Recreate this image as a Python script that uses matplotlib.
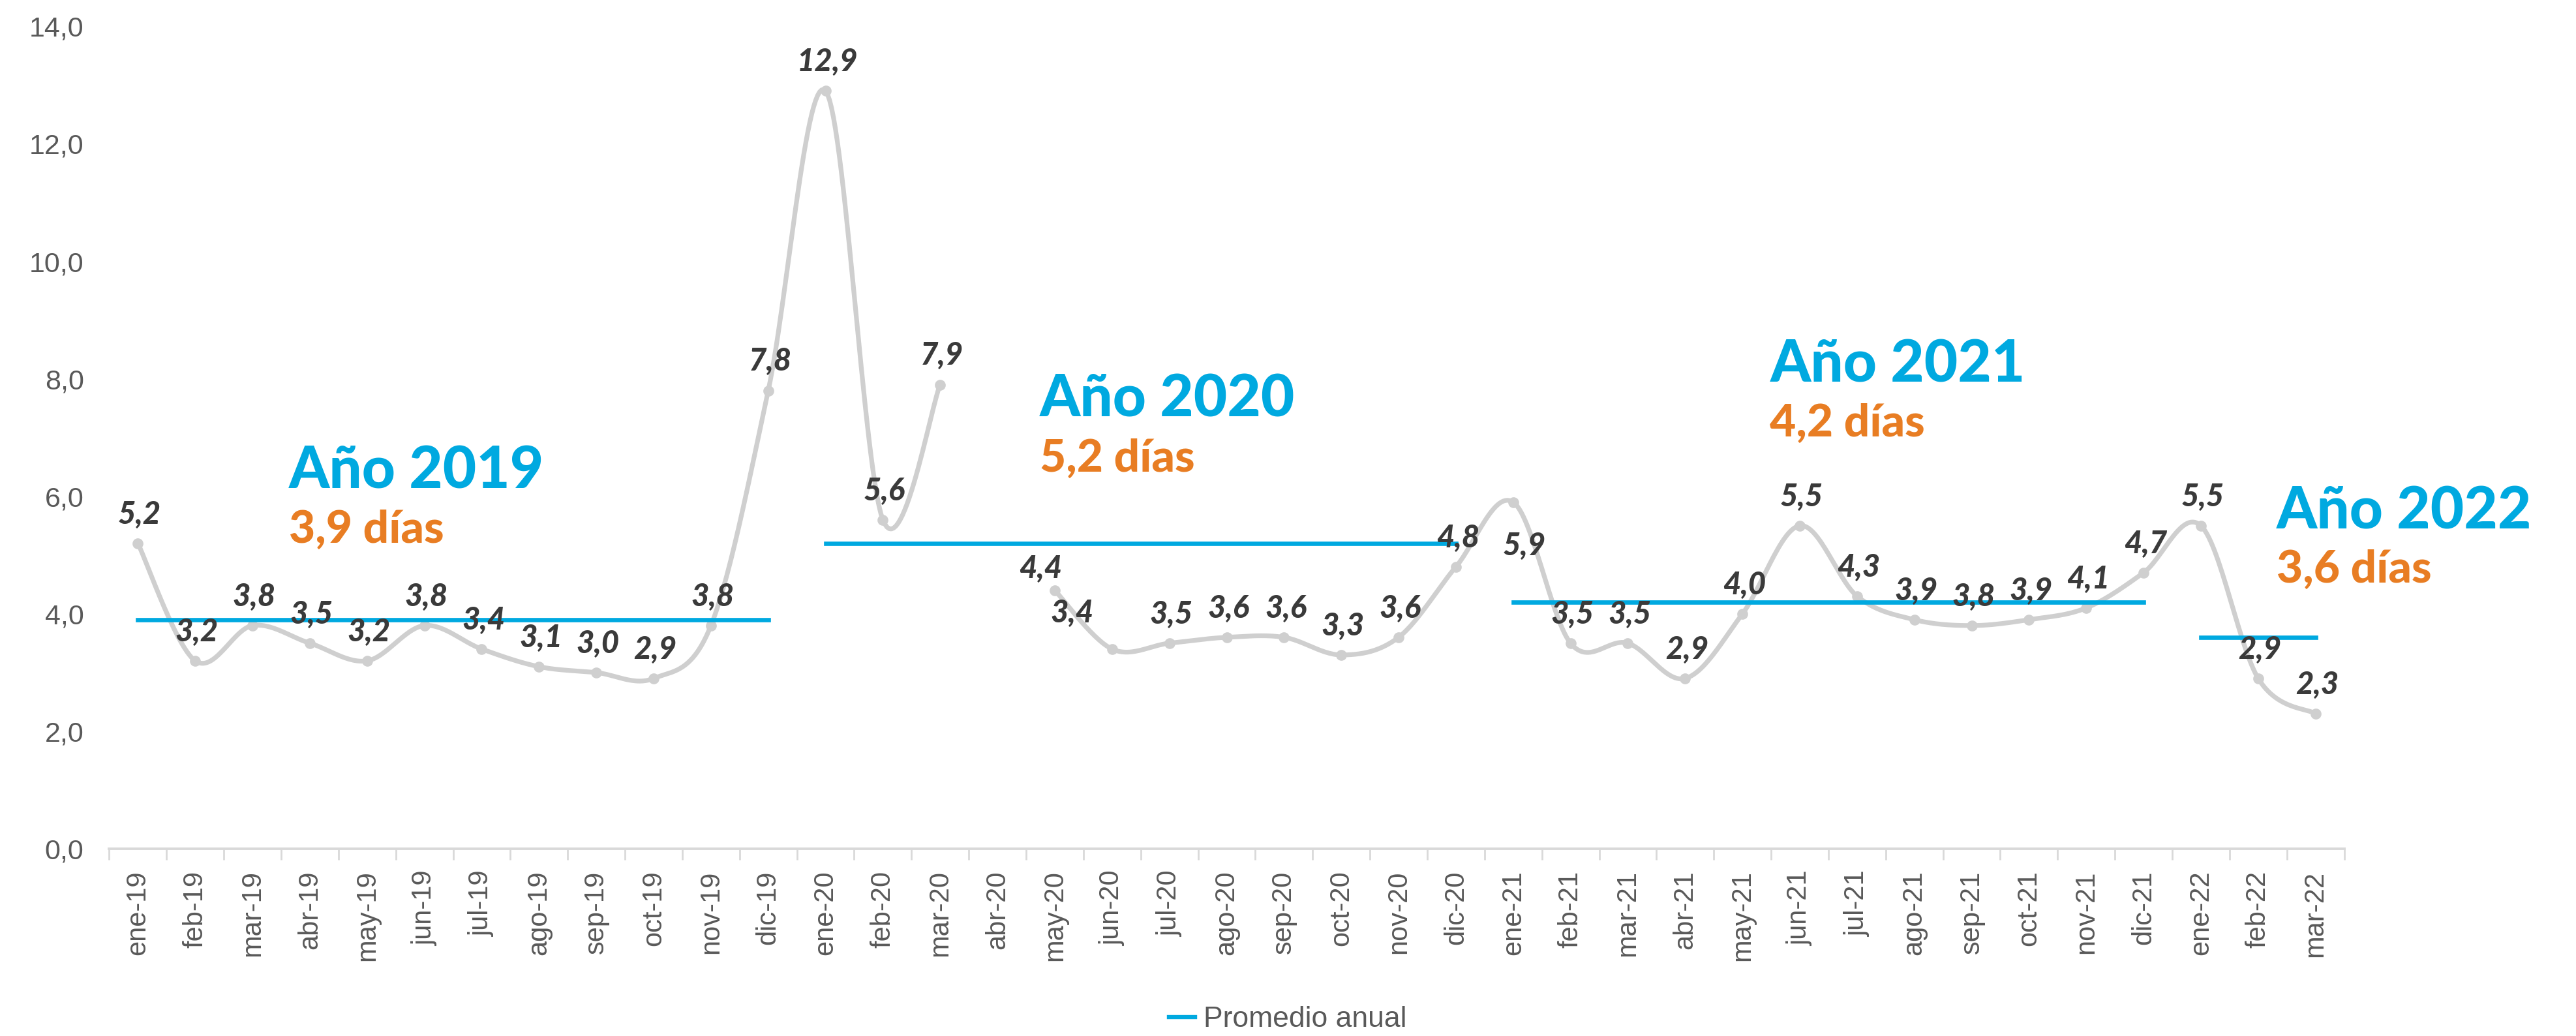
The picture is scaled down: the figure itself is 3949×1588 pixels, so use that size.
import numpy as np
import matplotlib
matplotlib.use("Agg")
import matplotlib.pyplot as plt
from matplotlib.lines import Line2D

meses = ["ene-19", "feb-19", "mar-19", "abr-19", "may-19", "jun-19", "jul-19", "ago-19",
         "sep-19", "oct-19", "nov-19", "dic-19",
         "ene-20", "feb-20", "mar-20", "abr-20", "may-20", "jun-20", "jul-20", "ago-20",
         "sep-20", "oct-20", "nov-20", "dic-20",
         "ene-21", "feb-21", "mar-21", "abr-21", "may-21", "jun-21", "jul-21", "ago-21",
         "sep-21", "oct-21", "nov-21", "dic-21",
         "ene-22", "feb-22", "mar-22"]

dias = [5.2, 3.2, 3.8, 3.5, 3.2, 3.8, 3.4, 3.1, 3.0, 2.9, 3.8, 7.8,
        12.9, 5.6, 7.9, np.nan, 4.4, 3.4, 3.5, 3.6, 3.6, 3.3, 3.6, 4.8,
        5.9, 3.5, 3.5, 2.9, 4.0, 5.5, 4.3, 3.9, 3.8, 3.9, 4.1, 4.7,
        5.5, 2.9, 2.3]

anios = ["2019", "2020", "2021", "2022"]
promedio = [3.9, 5.2, 4.2, 3.6]
inicio_anio = [0, 12, 24, 36]
fin_anio = [11, 23, 35, 38]

GRIS = "#CFCFCF"
CIAN = "#00A9E0"
NARANJA = "#E87D23"
ETIQ = "#3A3A3A"
TICK = "#595959"


def suavizar(x, y, n=30):
    # curva tipo excel (catmull-rom) entre puntos consecutivos
    px, py = [], []
    m = len(x)
    for i in range(m - 1):
        x0, y0 = (x[i - 1], y[i - 1]) if i > 0 else (x[i], y[i])
        x1, y1 = x[i], y[i]
        x2, y2 = x[i + 1], y[i + 1]
        x3, y3 = (x[i + 2], y[i + 2]) if i + 2 < m else (x2, y2)
        c1x, c1y = x1 + (x2 - x0) / 6, y1 + (y2 - y0) / 6
        c2x, c2y = x2 - (x3 - x1) / 6, y2 - (y3 - y1) / 6
        t = np.linspace(0, 1, n)
        a, b, c, d = (1 - t) ** 3, 3 * t * (1 - t) ** 2, 3 * t ** 2 * (1 - t), t ** 3
        px.extend(a * x1 + b * c1x + c * c2x + d * x2)
        py.extend(a * y1 + b * c1y + c * c2y + d * y2)
    return px, py


fig = plt.figure(figsize=(19.745, 7.94), dpi=200)
ax = fig.add_axes([0.0424, 0.1807, 0.8676, 0.7939])

idx = np.arange(len(meses))
vals = np.array(dias)

# tramos sin datos faltantes
tramos = []
actual = []
for i, v in zip(idx, vals):
    if np.isnan(v):
        if actual:
            tramos.append(actual)
        actual = []
    else:
        actual.append(i)
if actual:
    tramos.append(actual)

for tr in tramos:
    sx, sy = suavizar(list(idx[tr]), list(vals[tr]))
    ax.plot(sx, sy, color=GRIS, lw=2.6, solid_capstyle="round", zorder=2)
ax.plot(idx, vals, "o", color=GRIS, ms=5, zorder=3)

# promedio anual
for k in range(len(anios)):
    xs = idx[inicio_anio[k]:fin_anio[k] + 1]
    ax.plot(xs, [promedio[k]] * len(xs), color=CIAN, lw=2.4, zorder=4)

# etiquetas de datos
especiales = {16: (-8, 4), 17: (-22, 12), 24: (6, -32)}
for i, v in zip(idx, vals):
    if np.isnan(v):
        continue
    dx, dy = especiales.get(i, (1, 8))
    ax.annotate(f"{v:.1f}".replace(".", ","), (i, v), xytext=(dx, dy),
                textcoords="offset points", ha="center", va="bottom",
                fontsize=17, fontweight="black", fontstyle="italic",
                family=["Lato", "DejaVu Sans"], color=ETIQ, zorder=5)

# textos por año
pos_titulo = [(2.64, 6.14, 5.21), (15.74, 7.36, 6.42), (28.48, 7.95, 7.02), (37.32, 5.45, 4.53)]
for k in range(len(anios)):
    x0, yt, yd = pos_titulo[k]
    ax.text(x0, yt, f"Año {anios[k]}", color=CIAN, fontsize=32, fontweight="black",
            family=["Lato", "DejaVu Sans"], va="baseline", ha="left", zorder=6)
    ax.text(x0, yd, f"{promedio[k]:.1f}".replace(".", ",") + " días", color=NARANJA,
            fontsize=25, fontweight="black", family=["Lato", "DejaVu Sans"],
            va="baseline", ha="left", zorder=6)

ax.set_xlim(-0.5, len(meses) - 0.5)
ax.set_ylim(0, 14)
ax.set_yticks(np.arange(0, 14.1, 2))
ax.set_yticklabels([f"{t:.1f}".replace(".", ",") for t in np.arange(0, 14.1, 2)],
                   fontsize=15.5, color=TICK, family="Liberation Sans")
ax.tick_params(axis="y", length=0, pad=14)

ax.set_xticks(idx)
ax.set_xticklabels(meses, rotation=90, fontsize=15, color=TICK, family="Liberation Sans")
ax.set_xticks(np.arange(-0.5, len(meses)), minor=True)
ax.tick_params(axis="x", which="major", length=0, pad=12)
ax.tick_params(axis="x", which="minor", length=6, width=1, color="#D9D9D9")

for s in ["top", "right", "left"]:
    ax.spines[s].set_visible(False)
ax.spines["bottom"].set_color("#D9D9D9")
ax.spines["bottom"].set_linewidth(1.4)

handle = Line2D([0], [0], color=CIAN, lw=2.3)
fig.legend([handle], ["Promedio anual"], loc="center", bbox_to_anchor=(0.5, 0.016),
           frameon=False, handlelength=0.9, handletextpad=0.3,
           prop={"family": "Liberation Sans", "size": 16}, labelcolor=TICK)

fig.savefig("out.png", dpi=200, facecolor="white")
